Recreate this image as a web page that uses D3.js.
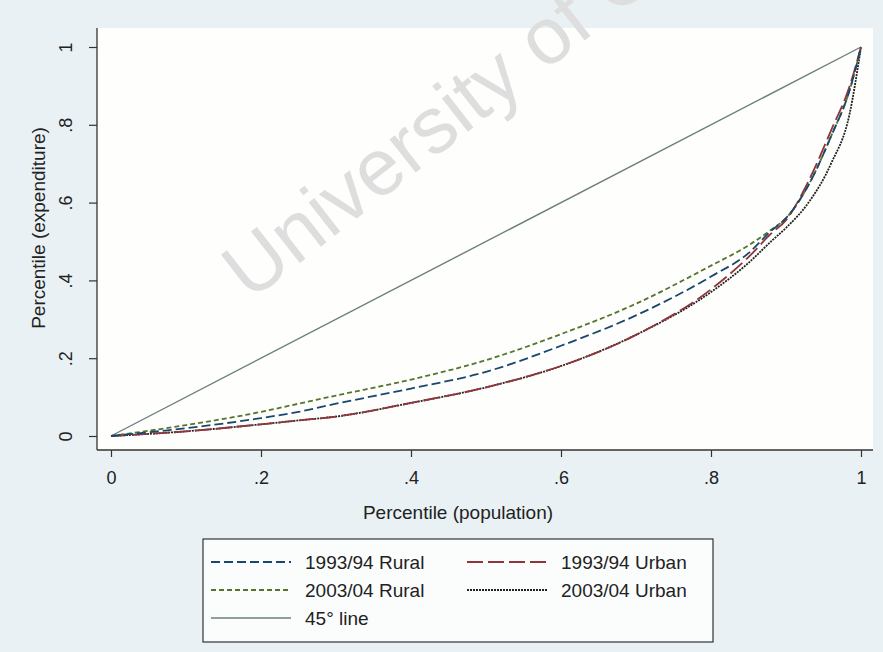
<!DOCTYPE html>
<html>
<head>
<meta charset="utf-8">
<script src="https://cdn.jsdelivr.net/npm/d3@7"></script>
<style>
  body { margin: 0; background: #e9f1f4; }
  svg { display: block; font-family: "Liberation Sans", Arial, sans-serif; }
</style>
</head>
<body>
<div id="chart"></div>
<script>
// percentile of population (x) shared by all curves
const popPct = [0, 0.1, 0.2, 0.25, 0.3, 0.4, 0.5, 0.6, 0.7, 0.8, 0.85, 0.88, 0.9, 0.93, 0.96, 0.985, 1];

// cumulative expenditure share
const rural9394 = [0, 0.02, 0.046, 0.062, 0.083, 0.122, 0.165, 0.232, 0.31, 0.41, 0.47, 0.527, 0.56, 0.645, 0.77, 0.89, 1];
const urban9394 = [0, 0.012, 0.03, 0.04, 0.05, 0.085, 0.125, 0.18, 0.26, 0.377, 0.46, 0.52, 0.555, 0.655, 0.785, 0.9, 1];
const rural0304 = [0, 0.028, 0.062, 0.083, 0.104, 0.145, 0.195, 0.262, 0.34, 0.438, 0.49, 0.53, 0.56, 0.645, 0.77, 0.89, 1];
const urban0304 = [0, 0.012, 0.03, 0.04, 0.05, 0.085, 0.125, 0.18, 0.26, 0.37, 0.445, 0.5, 0.535, 0.6, 0.7, 0.83, 1];
const diagonal = [0, 1];

const xTicks = [0, 0.2, 0.4, 0.6, 0.8, 1];
const yTicks = [0, 0.2, 0.4, 0.6, 0.8, 1];
const tickLabels = ['0', '.2', '.4', '.6', '.8', '1'];

const seriesNames = ['1993/94 Rural', '1993/94 Urban', '2003/04 Rural', '2003/04 Urban', '45\u00b0 line'];

const width = 883;
const height = 652;
const fontSize = 19;

// plot region (white box) and data range inside it
const region = { left: 97, right: 873, top: 28, bottom: 450 };

const x = d3.scaleLinear().domain([0, 1]).range([111, 861]);
const y = d3.scaleLinear().domain([0, 1]).range([436, 47]);

const series = [
  { name: seriesNames[0], xs: popPct, ys: rural9394, color: '#1a476f', dash: '9,4', w: 1.8 },
  { name: seriesNames[1], xs: popPct, ys: urban9394, color: '#90353b', dash: '16,5', w: 1.8 },
  { name: seriesNames[2], xs: popPct, ys: rural0304, color: '#55752f', dash: '5,3', w: 1.8 },
  { name: seriesNames[3], xs: popPct, ys: urban0304, color: '#222222', dash: '2,1', w: 1.8 },
  { name: seriesNames[4], xs: diagonal, ys: diagonal, color: '#6b7f7c', dash: null, w: 1.4 }
];

const svg = d3.select('#chart').append('svg')
  .attr('width', width)
  .attr('height', height);

svg.append('rect')
  .attr('width', width)
  .attr('height', height)
  .attr('fill', '#e9f1f4');

svg.append('rect')
  .attr('x', region.left)
  .attr('y', region.top)
  .attr('width', region.right - region.left)
  .attr('height', region.bottom - region.top)
  .attr('fill', '#fefefc');

// scan watermark (runs off the top of the page, as in the scan)
svg.append('text')
  .attr('class', 'watermark')
  .attr('transform', 'translate(250,302) rotate(-38)')
  .attr('font-size', 80)
  .attr('fill', '#dedede')
  .text('University of Cape Town');

// curves
const line = d3.line()
  .x(d => x(d[0]))
  .y(d => y(d[1]))
  .curve(d3.curveMonotoneX);

const $lines = svg.append('g').attr('class', 'g-lines');

$lines.selectAll('path')
  .data(series.slice().reverse())
  .join('path')
  .attr('d', s => line(s.xs.map((v, i) => [v, s.ys[i]])))
  .attr('fill', 'none')
  .attr('stroke', s => s.color)
  .attr('stroke-width', s => s.w)
  .attr('stroke-dasharray', s => s.dash);

// axes
const xAxis = d3.axisBottom(x)
  .tickValues(xTicks)
  .tickFormat((d, i) => tickLabels[i])
  .tickSize(7)
  .tickPadding(14);

const yAxis = d3.axisLeft(y)
  .tickValues(yTicks)
  .tickFormat((d, i) => tickLabels[i])
  .tickSize(8);

const $x = svg.append('g')
  .attr('transform', `translate(0,${region.bottom})`)
  .call(xAxis);
$x.select('.domain').remove();
$x.append('line')
  .attr('x1', region.left).attr('x2', region.right)
  .attr('stroke', '#333').attr('stroke-width', 1.3);

const $y = svg.append('g')
  .attr('transform', `translate(${region.left},0)`)
  .call(yAxis);
$y.select('.domain').remove();
$y.append('line')
  .attr('y1', region.top).attr('y2', region.bottom)
  .attr('stroke', '#333').attr('stroke-width', 1.3);

svg.selectAll('.tick line').attr('stroke', '#333').attr('stroke-width', 1.2);
svg.selectAll('.tick text')
  .attr('font-size', 18)
  .attr('fill', '#222')
  .attr('font-family', '"Liberation Sans", Arial, sans-serif');

// y tick labels are rotated in the original
$y.selectAll('.tick text')
  .attr('x', null)
  .attr('text-anchor', 'middle')
  .attr('transform', 'translate(-31,0) rotate(-90)')
  .attr('dy', '0.35em');

// axis titles
svg.append('text')
  .attr('x', 458)
  .attr('y', 519)
  .attr('text-anchor', 'middle')
  .attr('font-size', fontSize)
  .attr('fill', '#222')
  .text('Percentile (population)');

svg.append('text')
  .attr('transform', 'translate(45,228) rotate(-90)')
  .attr('text-anchor', 'middle')
  .attr('font-size', fontSize)
  .attr('fill', '#222')
  .text('Percentile (expenditure)');

// legend
const legend = { left: 203, top: 539, width: 510, height: 103 };
const $legend = svg.append('g').attr('class', 'g-legend');

$legend.append('rect')
  .attr('x', legend.left)
  .attr('y', legend.top)
  .attr('width', legend.width)
  .attr('height', legend.height)
  .attr('fill', '#fbfdfd')
  .attr('stroke', '#333')
  .attr('stroke-width', 1.2);

const colX = [211, 467];
const rowY = [562, 590, 618];

const $items = $legend.selectAll('.legend-item')
  .data(series)
  .join('g')
  .attr('class', 'legend-item')
  .attr('transform', (d, i) => `translate(${colX[i % 2]},${rowY[Math.floor(i / 2)]})`);

$items.append('line')
  .attr('x1', 0)
  .attr('x2', 80)
  .attr('stroke', d => d.color)
  .attr('stroke-width', d => d.w)
  .attr('stroke-dasharray', d => d.dash);

$items.append('text')
  .attr('x', 94)
  .attr('dy', '0.35em')
  .attr('font-size', fontSize)
  .attr('fill', '#222')
  .text(d => d.name);
</script>
</body>
</html>
